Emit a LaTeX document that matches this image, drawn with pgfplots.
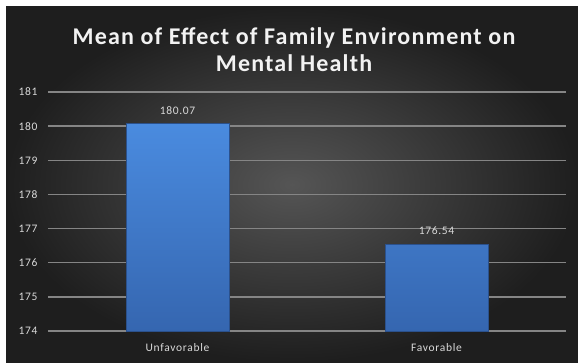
\documentclass[border=0pt]{standalone}
\usepackage{fontspec}
\setmainfont{Carlito}
\newfontfamily\titlefont[LetterSpace=5]{Carlito}
\newfontfamily\labfont[LetterSpace=6]{Carlito}
\usepackage{pgfplots}
\pgfplotsset{compat=1.18}
\definecolor{bgmid}{HTML}{555555}
\definecolor{bgout}{HTML}{1E1E1E}
\definecolor{gridcol}{HTML}{858585}
\definecolor{labcol}{HTML}{D9D9D9}
\definecolor{titlecol}{HTML}{F2F2F2}
\definecolor{barTop}{HTML}{4A8BDF}
\definecolor{barBot}{HTML}{3566B0}
\definecolor{barEdge}{HTML}{2B518C}
\begin{document}
\begin{tikzpicture}
\fill[white] (0pt,0pt) rectangle (578pt,362pt);
\shade[inner color=bgmid, outer color=bgout] (6pt,0pt) rectangle (578pt,355pt);
\node[text=titlecol, font=\titlefont\bfseries\fontsize{24}{27}\selectfont, align=center] at (294pt,312.5pt) {Mean of Effect of Family Environment on\\Mental Health};
\begin{axis}[
  at={(48pt,31pt)}, anchor=south west,
  scale only axis, width=518pt, height=239pt,
  xmin=-0.5, xmax=1.5, ymin=174, ymax=181,
  ytick={174,175,...,181},
  xtick={0,1}, xticklabels={Unfavorable,Favorable},
  axis line style={draw=none},
  major tick length=0pt,
  ymajorgrids, grid style={draw=gridcol, line width=1.3pt},
  ticklabel style={text=labcol, font=\labfont\fontsize{11.5}{13}\selectfont},
  yticklabel style={xshift=-7pt},
  xticklabel style={yshift=-9pt},
  /pgf/number format/assume math mode=true,
  ybar, bar width=103pt,
  nodes near coords,
  nodes near coords style={/pgf/number format/fixed, /pgf/number format/precision=2, /pgf/number format/fixed zerofill},
  every node near coord/.append style={text=labcol, font=\labfont\fontsize{11.5}{13}\selectfont, yshift=6pt},
]
\addplot[top color=barTop, bottom color=barBot, draw=barEdge, line width=0.6pt] coordinates {(0,180.07) (1,176.54)};
\end{axis}
\end{tikzpicture}
\end{document}
